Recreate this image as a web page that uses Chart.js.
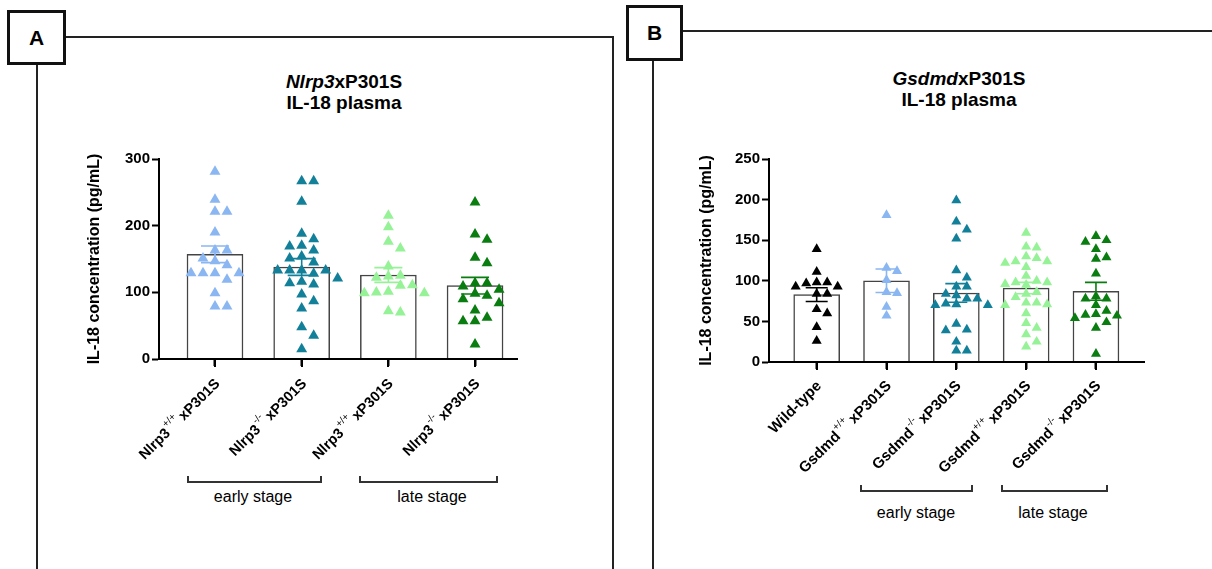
<!DOCTYPE html>
<html>
<head>
<meta charset="utf-8">
<script src="https://cdn.jsdelivr.net/npm/chart.js@4.4.0/dist/chart.umd.min.js"></script>
<style>
  body { margin: 0; width: 1212px; height: 569px; position: relative; overflow: hidden; background: #fff;
         font-family: 'Liberation Sans', Arial, sans-serif; color: #000; }
  .frame { position: absolute; border: 2px solid #222; border-bottom: none; box-sizing: border-box; }
  .tag { position: absolute; border: 3px solid #111; background: #fff; box-sizing: border-box;
         font-weight: bold; font-size: 21px; display: flex; align-items: center; justify-content: center; z-index: 2; }
  .title { position: absolute; width: 260px; text-align: center; font-weight: bold; font-size: 19px; line-height: 21px; }
  .bracket { position: absolute; height: 7px; border: 2px solid #333; border-top: none; box-sizing: border-box; }
  .stage { position: absolute; width: 140px; text-align: center; font-size: 16px; line-height: 18px; }
  .axis { position: absolute; background: #000; z-index: 6; }
  canvas { position: absolute; top: 0; z-index: 5; }
</style>
</head>
<body>
<div class="frame" style="left:36px; top:36px; width:578px; height:540px;"></div>
<div class="tag" style="left:7px; top:10px; width:59px; height:55px;">A</div>
<div class="frame" style="left:652px; top:30px; width:600px; height:545px;"></div>
<div class="tag" style="left:626px; top:5px; width:57px; height:56px;">B</div>

<div class="title" style="left:214px; top:71px;"><i>Nlrp3</i>xP301S<br>IL-18 plasma</div>
<div class="title" style="left:829px; top:68px;"><i>Gsdmd</i>xP301S<br>IL-18 plasma</div>

<div class="bracket" style="left:187px; top:476px; width:135px;"></div>
<div class="stage" style="left:183px; top:488px;">early stage</div>
<div class="bracket" style="left:359px; top:476px; width:139px;"></div>
<div class="stage" style="left:362px; top:488px;">late stage</div>
<div class="bracket" style="left:860px; top:485px; width:113px;"></div>
<div class="stage" style="left:846px; top:504px;">early stage</div>
<div class="bracket" style="left:1001px; top:485px; width:107px;"></div>
<div class="stage" style="left:983px; top:504px;">late stage</div>

<canvas id="chartA" width="612" height="569" style="left:0"></canvas>
<canvas id="chartB" width="592" height="569" style="left:620px"></canvas>

<script>
// panel A: Nlrp3 x P301S, IL-18 plasma (pg/mL)
const catBaseA = ['Nlrp3', 'Nlrp3', 'Nlrp3', 'Nlrp3'];
const catSupA  = ['+/+', '-/-', '+/+', '-/-'];
const catRestA = ['xP301S', 'xP301S', 'xP301S', 'xP301S'];
const nlrpWtEarly = [281, 239, 221, 221, 190, 163, 163, 151, 147, 141, 129, 129, 129, 129, 119, 99, 79, 79];
const nlrpKoEarly = [267, 267, 236, 188, 180, 170, 169, 163, 154, 151, 145, 133, 133, 133, 133, 128, 121, 116, 114, 112, 97, 87, 76, 48, 35, 15];
const nlrpWtLate  = [215, 198, 176, 166, 139, 125, 124, 122, 111, 110, 101, 100, 99, 99, 72, 70];
const nlrpKoLate  = [235, 187, 179, 152, 144, 114, 114, 109, 104, 98, 95, 90, 84, 73, 62, 57, 57, 22];
const meansA = [157, 138, 126, 110];
const semsA  = [12.5, 12.5, 11, 12.5];
const yTicksA = [0, 100, 200, 300];

// panel B: Gsdmd x P301S
const catBaseB = ['Wild-type', 'Gsdmd', 'Gsdmd', 'Gsdmd', 'Gsdmd'];
const catSupB  = ['', '+/+', '-/-', '+/+', '-/-'];
const catRestB = ['', 'xP301S', 'xP301S', 'xP301S', 'xP301S'];
const wildType     = [139, 111, 98, 98, 97, 93, 93, 84, 84, 65, 60, 43, 26];
const gsdmdWtEarly = [181, 116, 112, 101, 86, 85, 68, 57];
const gsdmdKoEarly = [199, 173, 163, 152, 113, 104, 93, 93, 84, 82, 78, 78, 72, 71, 70, 70, 47, 40, 39, 25, 14, 14];
const gsdmdWtLate  = [159, 142, 141, 130, 128, 124, 124, 122, 117, 106, 100, 98, 98, 96, 95, 86, 84, 80, 73, 73, 71, 70, 60, 48, 42, 34, 25, 19];
const gsdmdKoLate  = [155, 150, 148, 139, 129, 127, 109, 81, 78, 78, 70, 63, 59, 58, 57, 54, 49, 42, 10];
const meansB = [83, 100, 85, 91, 87];
const semsB  = [8.5, 14.5, 11.5, 7, 11];
const yTicksB = [0, 50, 100, 150, 200, 250];

const FONT = "'Liberation Sans', Arial, sans-serif";
const LIGHT_BLUE = '#8ab6f2';
const TEAL = '#13809a';
const LIGHT_GREEN = '#96f296';
const DARK_GREEN = '#0a7d10';

// mean ± SEM whiskers over the points
const errorBars = {
  id: 'errorBars',
  afterDatasetsDraw(chart, args, opts) {
    const { ctx, scales: { x, y } } = chart;
    ctx.save();
    ctx.lineWidth = 1.6;
    opts.means.forEach((m, i) => {
      const px = x.getPixelForValue(i);
      const top = y.getPixelForValue(m + opts.sems[i]);
      const bot = y.getPixelForValue(m - opts.sems[i]);
      ctx.strokeStyle = opts.colors[i];
      ctx.beginPath();
      ctx.moveTo(px, top); ctx.lineTo(px, bot);
      ctx.moveTo(px - opts.cap, top); ctx.lineTo(px + opts.cap, top);
      ctx.moveTo(px - opts.cap, bot); ctx.lineTo(px + opts.cap, bot);
      ctx.stroke();
    });
    ctx.restore();
  }
};

// rotated category labels with a superscript genotype
const slantLabels = {
  id: 'slantLabels',
  afterDraw(chart, args, opts) {
    const { ctx, scales: { x, y } } = chart;
    const base0 = y.getPixelForValue(0);
    const big = 'bold ' + opts.size + 'px ' + FONT;
    const small = '10px ' + FONT;
    opts.base.forEach((base, i) => {
      const sup = opts.sup[i];
      const rest = opts.rest[i];
      ctx.save();
      ctx.translate(x.getPixelForValue(i) + opts.dx, base0 + opts.dy);
      ctx.rotate(-Math.PI / 4);
      ctx.fillStyle = '#000';
      ctx.textBaseline = 'alphabetic';
      ctx.textAlign = 'left';
      ctx.font = big;
      const wBase = ctx.measureText(base).width;
      const wRest = rest ? ctx.measureText(rest).width : 0;
      ctx.font = small;
      const wSup = sup ? ctx.measureText(sup).width + 4 : 0;
      let cx = -(wBase + wSup + wRest);
      ctx.font = big;
      ctx.fillText(base, cx, 5);
      cx += wBase + 1;
      if (sup) {
        ctx.font = small;
        ctx.fillText(sup, cx, -3);
        cx += wSup - 1;
      }
      if (rest) {
        ctx.font = big;
        ctx.fillText(rest, cx, 5);
      }
      ctx.restore();
    });
  }
};

// x baseline and group ticks as thin boxes, placed from the chart's own scales
function addBaseline(chart, canvasLeft) {
  const x = chart.scales.x, y = chart.scales.y;
  const base0 = Math.round(y.getPixelForValue(0));
  const bits = [{ l: x.left - 1, t: base0 - 1, w: x.right - x.left + 1, h: 2 }];
  chart.data.datasets[0].data.forEach(d => {
    bits.push({ l: Math.round(x.getPixelForValue(d.x)) - 1, t: base0, w: 2, h: 8 });
  });
  bits.forEach(b => {
    const el = document.createElement('div');
    el.className = 'axis';
    el.style.left = (canvasLeft + b.l) + 'px';
    el.style.top = b.t + 'px';
    el.style.width = b.w + 'px';
    el.style.height = b.h + 'px';
    document.body.appendChild(el);
  });
}

function makePanel(id, p) {
  const datasets = [{
    type: 'bar',
    data: p.means.map((m, i) => ({ x: i, y: m })),
    backgroundColor: '#fff',
    borderColor: '#444',
    borderWidth: 1.5,
    barThickness: p.barWidth,
    order: 2
  }];
  p.groups.forEach((vals, g) => {
    datasets.push({
      type: 'scatter',
      data: vals.map(v => ({ x: g, y: v })),
      pointStyle: 'triangle',
      pointRadius: p.radius,
      pointBorderWidth: 0,
      backgroundColor: p.colors[g],
      borderColor: p.colors[g],
      order: 1
    });
  });

  const chart = new Chart(document.getElementById(id), {
    type: 'bar',
    data: { datasets },
    plugins: [errorBars, slantLabels],
    options: {
      responsive: false,
      animation: false,
      devicePixelRatio: 1,
      layout: { padding: p.padding },
      plugins: {
        legend: { display: false },
        tooltip: { enabled: false },
        errorBars: { means: p.means, sems: p.sems, colors: p.colors, cap: p.cap },
        slantLabels: { base: p.base, sup: p.sup, rest: p.rest, size: p.labelSize, dx: p.labelDx, dy: p.labelDy }
      },
      scales: {
        x: {
          type: 'linear',
          offset: false,
          min: p.xMin,
          max: p.xMax,
          afterBuildTicks: s => { s.ticks = p.means.map((m, i) => ({ value: i })); },
          ticks: { display: false },
          border: { display: true, color: '#000', width: 2 },
          grid: { offset: false, drawOnChartArea: false, drawTicks: true, tickLength: 7, tickWidth: 2, tickColor: '#000' }
        },
        y: {
          min: 0,
          max: p.yTicks[p.yTicks.length - 1],
          afterBuildTicks: s => { s.ticks = p.yTicks.map(v => ({ value: v })); },
          afterFit: s => { s.width = 80; },
          ticks: { color: '#000', padding: 2, font: { family: FONT, size: 15, weight: 'bold' } },
          border: { display: true, color: '#000', width: 2 },
          grid: { drawOnChartArea: false, drawTicks: true, tickLength: 7, tickWidth: 2, tickColor: '#000' },
          title: {
            display: true,
            text: 'IL-18 concentration (pg/mL)',
            color: '#000',
            padding: { top: p.titlePad, bottom: 0 },
            font: { family: FONT, size: 16, weight: 'bold' }
          }
        }
      }
    }
  });

  // spread the points sideways like a column scatter, in pixel space
  const xs = chart.scales.x, ys = chart.scales.y;
  const unit = xs.getPixelForValue(1) - xs.getPixelForValue(0);
  p.groups.forEach((vals, g) => {
    const placed = [];
    const sorted = vals.slice().sort((a, b) => b - a);
    sorted.forEach(v => {
      const py = ys.getPixelForValue(v);
      let off = 0;
      for (let k = 0; k < 60; k++) {
        const cand = (k % 2 ? 1 : -1) * Math.ceil(k / 2) * p.step;
        if (!placed.some(q => Math.abs(q.px - cand) < p.radius * 1.8 && Math.abs(q.py - py) < p.radius * 1.5)) {
          off = cand;
          break;
        }
      }
      placed.push({ px: off, py, v });
    });
    chart.data.datasets[g + 1].data = placed.map(q => ({ x: g + q.px / unit, y: q.v }));
  });
  chart.update('none');
  addBaseline(chart, p.canvasLeft);
}

makePanel('chartA', {
  groups: [nlrpWtEarly, nlrpKoEarly, nlrpWtLate, nlrpKoLate],
  means: meansA, sems: semsA, yTicks: yTicksA,
  base: catBaseA, sup: catSupA, rest: catRestA,
  colors: [LIGHT_BLUE, TEAL, LIGHT_GREEN, DARK_GREEN],
  xMin: -0.646, xMax: 3.484, canvasLeft: 0,
  barWidth: 56, radius: 6.3, step: 4, cap: 14, titlePad: 6,
  labelSize: 14.5, labelDx: 2, labelDy: 22,
  padding: { left: 79, top: 159, right: 95, bottom: 203 }
});

makePanel('chartB', {
  groups: [wildType, gsdmdWtEarly, gsdmdKoEarly, gsdmdWtLate, gsdmdKoLate],
  means: meansB, sems: semsB, yTicks: yTicksB,
  base: catBaseB, sup: catSupB, rest: catRestB,
  colors: ['#000', LIGHT_BLUE, TEAL, LIGHT_GREEN, DARK_GREEN],
  xMin: -0.683, xMax: 4.688, canvasLeft: 620,
  barWidth: 46, radius: 5.8, step: 3.5, cap: 11, titlePad: 8,
  labelSize: 15, labelDx: 2, labelDy: 21,
  padding: { left: 69, top: 159, right: 68, bottom: 200 }
});
</script>
</body>
</html>
